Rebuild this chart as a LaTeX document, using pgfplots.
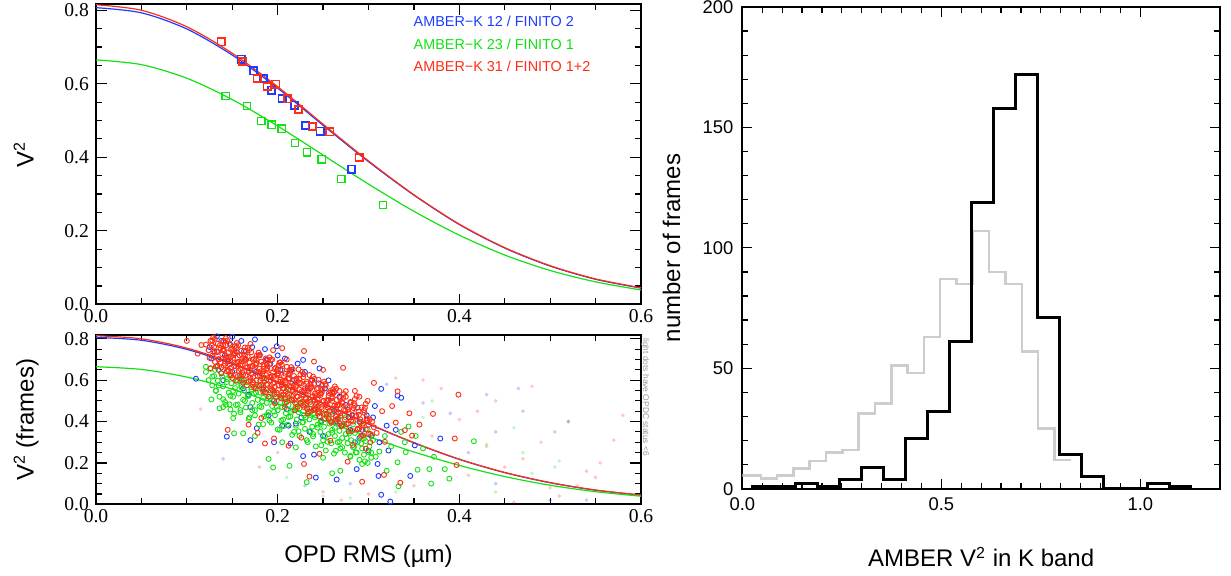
\documentclass[border=0pt]{standalone}
\usepackage{fontspec}
\setmainfont{Liberation Sans}
\newfontfamily\tnr{Liberation Serif}
\usepackage{pgfplots}
\pgfplotsset{compat=1.18}

\definecolor{cblue}{RGB}{30,60,255}
\definecolor{cgreen}{RGB}{20,225,20}
\definecolor{cred}{RGB}{255,45,20}
\definecolor{hgray}{RGB}{205,205,205}

\pgfplotsset{
  leftpanel/.style={
    scale only axis, width=272.5pt,
    xmin=0, xmax=0.6, ymin=0, ymax=0.817,
    xtick={0,0.2,0.4,0.6}, ytick={0,0.2,0.4,0.6,0.8},
    minor x tick num=3, minor y tick num=3,
    tick align=inside, major tick length=5.3pt, minor tick length=2.9pt,
    axis line style={line width=0.9pt},
    every tick/.style={black, line width=0.6pt},
    /pgf/number format/assume math mode=true,
    /pgf/number format/fixed, /pgf/number format/fixed zerofill,
    /pgf/number format/precision=1,
    ticklabel style={font=\fontsize{9.8}{10}\tnr},
    xticklabel style={yshift=1pt},
  },
  curve/.style={line width=0.6pt, smooth, mark=none},
  sq/.style={only marks, mark=square, mark size=1.8pt, mark options={line width=0.9pt}},
  circ/.style={only marks, mark=o, mark size=1.25pt, mark options={line width=0.45pt}},
  faint/.style={only marks, mark=*, mark size=0.75pt, opacity=0.18},
}

\begin{document}
\begin{tikzpicture}
\path[use as bounding box] (0,0) rectangle (615.5pt,288pt);

% ---------- top left: V^2 vs OPD RMS (averages) ----------
\begin{axis}[leftpanel, height=150.15pt, at={(48pt,135.85pt)}, anchor=south west]
\addplot[cblue, curve] coordinates {(0,0.807)(0.05,0.793)(0.10,0.749)(0.15,0.678)(0.20,0.588)(0.25,0.487)(0.30,0.388)(0.35,0.297)(0.40,0.217)(0.45,0.153)(0.50,0.104)(0.55,0.068)(0.60,0.044)};
\addplot[cred, curve] coordinates {(0,0.815)(0.05,0.800)(0.10,0.755)(0.15,0.683)(0.20,0.592)(0.25,0.490)(0.30,0.390)(0.35,0.298)(0.40,0.218)(0.45,0.154)(0.50,0.105)(0.55,0.069)(0.60,0.045)};
\addplot[cgreen, curve] coordinates {(0,0.665)(0.05,0.652)(0.10,0.615)(0.15,0.557)(0.20,0.485)(0.25,0.406)(0.30,0.327)(0.35,0.253)(0.40,0.188)(0.45,0.134)(0.50,0.092)(0.55,0.061)(0.60,0.039)};
\addplot[cblue, sq] coordinates {(0.1598,0.667)(0.1733,0.635)(0.1843,0.614)(0.193,0.583)(0.2048,0.560)(0.2183,0.542)(0.2304,0.487)(0.2468,0.471)(0.2815,0.368)};
\addplot[cgreen, sq, mark options={line width=0.6pt}] coordinates {(0.1426,0.567)(0.166,0.540)(0.1821,0.498)(0.1934,0.489)(0.2044,0.478)(0.219,0.438)(0.2322,0.413)(0.2483,0.394)(0.2702,0.341)(0.316,0.270)};
\addplot[cred, sq] coordinates {(0.1378,0.714)(0.1616,0.661)(0.1773,0.614)(0.1883,0.592)(0.198,0.599)(0.2106,0.559)(0.2230,0.530)(0.238,0.483)(0.2574,0.469)(0.2896,0.400)};
\node[cblue, anchor=base west, font=\fontsize{7.2}{8}\selectfont] at (axis cs:0.342,0.7546) {AMBER−K 12 / FINITO 2};
\node[cgreen, anchor=base west, font=\fontsize{7.2}{8}\selectfont] at (axis cs:0.342,0.694) {AMBER−K 23 / FINITO 1};
\node[cred, anchor=base west, font=\fontsize{7.2}{8}\selectfont] at (axis cs:0.342,0.634) {AMBER−K 31 / FINITO 1+2};
\end{axis}

% ---------- bottom left: individual frames ----------
\begin{axis}[leftpanel, height=84.5pt, at={(48pt,35.85pt)}, anchor=south west]
\addplot[cred, faint] coordinates {(0.115,0.460)(0.430,0.280)(0.470,0.220)(0.520,0.400)(0.550,0.130)(0.580,0.430)(0.480,0.570)(0.460,0.010)(0.500,0.080)(0.530,0.090)(0.540,0.160)(0.555,0.200)(0.400,0.410)(0.360,0.600)(0.380,0.560)(0.440,0.500)(0.420,0.450)(0.370,0.330)(0.350,0.090)(0.300,0.050)(0.270,0.020)(0.250,0.060)(0.200,0.250)(0.180,0.180)(0.330,0.610)(0.450,0.180)(0.490,0.300)(0.570,0.310)(0.510,0.040)(0.410,0.140)};
\addplot[cblue, faint] coordinates {(0.440,0.350)(0.465,0.560)(0.520,0.400)(0.505,0.350)(0.500,0.020)(0.440,0.100)(0.390,0.440)(0.430,0.530)(0.140,0.220)(0.230,0.090)(0.320,0.580)(0.360,0.490)(0.470,0.450)(0.540,0.020)(0.410,0.250)(0.280,0.100)};
\addplot[cgreen, faint] coordinates {(0.460,0.370)(0.470,0.250)(0.510,0.210)(0.505,0.180)(0.430,0.290)(0.370,0.500)(0.400,0.220)(0.330,0.060)(0.280,0.030)(0.210,0.130)(0.250,0.040)(0.360,0.420)(0.480,0.150)(0.440,0.060)};
\addplot[cblue, curve] coordinates {(0,0.807)(0.05,0.793)(0.10,0.749)(0.15,0.678)(0.20,0.588)(0.25,0.487)(0.30,0.388)(0.35,0.297)(0.40,0.217)(0.45,0.153)(0.50,0.104)(0.55,0.068)(0.60,0.044)};
\addplot[cred, curve] coordinates {(0,0.815)(0.05,0.800)(0.10,0.755)(0.15,0.683)(0.20,0.592)(0.25,0.490)(0.30,0.390)(0.35,0.298)(0.40,0.218)(0.45,0.154)(0.50,0.105)(0.55,0.069)(0.60,0.045)};
\addplot[cgreen, curve] coordinates {(0,0.665)(0.05,0.652)(0.10,0.615)(0.15,0.557)(0.20,0.485)(0.25,0.406)(0.30,0.327)(0.35,0.253)(0.40,0.188)(0.45,0.134)(0.50,0.092)(0.55,0.061)(0.60,0.039)};
% blue frames
\addplot[cblue, circ] coordinates {(0.110,0.607)(0.133,0.812)(0.150,0.810)(0.144,0.327)(0.170,0.310)(0.175,0.797)(0.199,0.764)(0.214,0.294)(0.228,0.233)(0.242,0.129)(0.265,0.120)(0.287,0.170)(0.310,0.195)(0.314,0.046)(0.324,0.013)(0.311,0.137)(0.346,0.137)(0.351,0.285)(0.379,0.318)(0.314,0.558)(0.332,0.525)(0.336,0.515)(0.307,0.475)(0.288,0.467)(0.256,0.599)(0.246,0.657)(0.228,0.698)(0.177,0.368)
(0.125,0.760)(0.130,0.740)(0.138,0.790)(0.142,0.720)(0.148,0.770)(0.155,0.735)(0.160,0.790)(0.165,0.700)(0.172,0.760)(0.180,0.720)(0.186,0.750)(0.192,0.680)(0.200,0.720)(0.208,0.705)(0.215,0.650)(0.222,0.680)(0.230,0.640)(0.238,0.600)(0.245,0.585)(0.252,0.560)(0.260,0.540)(0.268,0.520)(0.275,0.480)(0.282,0.430)(0.290,0.400)(0.298,0.430)(0.305,0.420)(0.190,0.430)(0.205,0.380)(0.220,0.390)(0.235,0.350)(0.250,0.330)(0.265,0.400)(0.280,0.360)(0.162,0.560)(0.140,0.600)(0.150,0.640)(0.170,0.470)(0.290,0.320)(0.300,0.260)(0.320,0.380)
(0.127,0.705)(0.135,0.650)(0.146,0.690)(0.158,0.610)(0.163,0.740)(0.168,0.530)(0.176,0.640)(0.183,0.560)(0.188,0.700)(0.196,0.500)(0.203,0.650)(0.210,0.460)(0.218,0.600)(0.226,0.420)(0.233,0.560)(0.241,0.460)(0.248,0.400)(0.255,0.500)(0.262,0.450)(0.270,0.380)(0.278,0.420)(0.285,0.300)(0.293,0.360)(0.303,0.330)(0.312,0.300)(0.322,0.260)(0.330,0.360)(0.212,0.380)(0.196,0.300)(0.240,0.240)};
% green frames
\addplot[cgreen, circ] coordinates {(0.121,0.640)(0.124,0.600)(0.126,0.655)(0.128,0.575)(0.130,0.620)(0.132,0.548)(0.134,0.598)(0.136,0.520)(0.138,0.632)(0.140,0.570)(0.142,0.495)(0.144,0.605)(0.146,0.540)(0.148,0.458)(0.149,0.585)
(0.151,0.520)(0.153,0.562)(0.154,0.480)(0.156,0.600)(0.157,0.535)(0.159,0.445)(0.160,0.575)(0.162,0.505)(0.163,0.550)(0.165,0.468)(0.166,0.590)(0.168,0.525)(0.169,0.420)(0.171,0.555)(0.172,0.490)(0.174,0.535)(0.175,0.455)(0.177,0.570)(0.178,0.505)(0.179,0.385)
(0.181,0.540)(0.182,0.470)(0.184,0.515)(0.185,0.425)(0.187,0.555)(0.188,0.490)(0.190,0.445)(0.191,0.520)(0.193,0.395)(0.194,0.475)(0.196,0.540)(0.197,0.430)(0.199,0.500)(0.200,0.455)(0.202,0.360)(0.203,0.520)(0.205,0.470)(0.206,0.410)(0.208,0.495)(0.209,0.440)
(0.211,0.385)(0.212,0.480)(0.214,0.425)(0.215,0.510)(0.217,0.455)(0.218,0.350)(0.220,0.470)(0.221,0.410)(0.223,0.445)(0.224,0.330)(0.226,0.490)(0.227,0.395)(0.229,0.430)(0.230,0.365)(0.232,0.465)(0.233,0.300)(0.235,0.410)(0.236,0.445)(0.238,0.375)(0.239,0.340)
(0.241,0.420)(0.242,0.280)(0.244,0.385)(0.245,0.450)(0.247,0.350)(0.248,0.405)(0.250,0.310)(0.251,0.375)(0.253,0.260)(0.254,0.425)(0.256,0.340)(0.257,0.390)(0.259,0.295)(0.260,0.360)(0.262,0.245)(0.263,0.330)(0.265,0.405)(0.266,0.300)(0.268,0.355)(0.269,0.270)
(0.271,0.320)(0.272,0.380)(0.274,0.250)(0.275,0.340)(0.277,0.295)(0.278,0.360)(0.280,0.230)(0.281,0.310)(0.283,0.275)(0.285,0.345)(0.286,0.250)(0.288,0.300)(0.290,0.215)(0.291,0.325)(0.293,0.270)(0.295,0.240)(0.297,0.305)(0.299,0.200)(0.301,0.280)(0.303,0.250)(0.305,0.310)(0.308,0.230)
(0.121,0.665)(0.133,0.665)(0.147,0.483)(0.152,0.343)(0.162,0.343)(0.151,0.417)(0.190,0.219)(0.195,0.178)(0.213,0.186)(0.232,0.107)(0.260,0.150)(0.269,0.162)(0.293,0.195)(0.320,0.162)(0.333,0.087)(0.369,0.100)(0.389,0.124)(0.384,0.170)(0.367,0.170)(0.354,0.167)(0.341,0.252)(0.332,0.203)(0.416,0.305)(0.344,0.376)(0.336,0.350)(0.352,0.330)(0.318,0.330)(0.325,0.280)(0.312,0.255)(0.250,0.225)(0.220,0.275)(0.205,0.300)(0.175,0.330)(0.140,0.470)(0.160,0.620)(0.185,0.600)(0.210,0.560)(0.235,0.505)(0.340,0.300)(0.360,0.270)(0.372,0.230)
(0.127,0.507)(0.128,0.617)(0.131,0.650)(0.132,0.550)(0.135,0.574)(0.136,0.464)(0.139,0.618)(0.140,0.508)(0.143,0.481)(0.144,0.591)(0.147,0.625)(0.148,0.525)(0.151,0.548)(0.152,0.438)(0.155,0.592)(0.156,0.482)(0.159,0.456)(0.160,0.566)(0.163,0.599)(0.164,0.499)
(0.167,0.523)(0.168,0.413)(0.171,0.566)(0.172,0.456)(0.175,0.430)(0.176,0.540)(0.179,0.574)(0.180,0.474)(0.183,0.497)(0.184,0.387)(0.187,0.541)(0.188,0.431)(0.191,0.404)(0.192,0.514)(0.195,0.548)(0.196,0.448)(0.199,0.472)(0.200,0.362)(0.203,0.515)(0.204,0.405)
(0.207,0.379)(0.208,0.489)(0.211,0.522)(0.212,0.422)(0.215,0.446)(0.216,0.336)(0.219,0.490)(0.220,0.380)(0.223,0.353)(0.224,0.463)(0.227,0.497)(0.228,0.397)(0.231,0.420)(0.232,0.310)(0.235,0.464)(0.236,0.354)(0.239,0.328)(0.240,0.438)(0.243,0.471)(0.244,0.371)
(0.247,0.395)(0.248,0.285)(0.251,0.438)(0.252,0.328)(0.255,0.302)(0.256,0.412)(0.259,0.446)(0.260,0.346)(0.263,0.369)(0.264,0.259)(0.267,0.413)(0.268,0.303)(0.271,0.276)(0.272,0.386)(0.275,0.420)(0.276,0.320)(0.279,0.344)(0.280,0.234)(0.283,0.387)(0.284,0.277)
(0.287,0.251)(0.288,0.361)(0.291,0.394)(0.292,0.294)(0.295,0.318)(0.296,0.208)(0.299,0.362)(0.300,0.252)(0.303,0.225)(0.304,0.335)};
% red frames
\addplot[cred, circ] coordinates {(0.121,0.772)(0.124,0.745)(0.126,0.790)(0.128,0.718)(0.130,0.760)(0.131,0.688)(0.133,0.738)(0.134,0.776)(0.135,0.702)(0.137,0.755)(0.138,0.662)(0.139,0.725)(0.140,0.790)
(0.141,0.742)(0.142,0.680)(0.143,0.768)(0.144,0.712)(0.145,0.650)(0.146,0.735)(0.147,0.778)(0.148,0.693)(0.149,0.622)(0.150,0.752)(0.151,0.708)(0.152,0.668)(0.153,0.731)(0.154,0.598)(0.155,0.760)(0.156,0.688)(0.157,0.645)(0.158,0.720)(0.159,0.672)(0.160,0.742)
(0.161,0.705)(0.162,0.628)(0.163,0.690)(0.164,0.758)(0.165,0.662)(0.166,0.575)(0.167,0.715)(0.168,0.640)(0.169,0.685)(0.170,0.612)(0.171,0.735)(0.172,0.668)(0.173,0.590)(0.174,0.702)(0.175,0.648)(0.176,0.560)(0.177,0.682)(0.178,0.620)(0.179,0.720)(0.180,0.655)
(0.181,0.598)(0.182,0.690)(0.183,0.632)(0.184,0.545)(0.185,0.668)(0.186,0.610)(0.187,0.705)(0.188,0.582)(0.189,0.645)(0.190,0.520)(0.191,0.675)(0.192,0.615)(0.193,0.560)(0.194,0.700)(0.195,0.638)(0.196,0.590)(0.197,0.488)(0.198,0.660)(0.199,0.540)(0.200,0.622)
(0.201,0.575)(0.202,0.685)(0.203,0.602)(0.204,0.512)(0.205,0.648)(0.206,0.560)(0.207,0.620)(0.208,0.470)(0.209,0.590)(0.210,0.665)(0.211,0.535)(0.212,0.608)(0.213,0.572)(0.214,0.640)(0.215,0.505)(0.216,0.585)(0.217,0.545)(0.218,0.620)(0.219,0.455)(0.220,0.568)
(0.221,0.600)(0.222,0.520)(0.223,0.652)(0.224,0.555)(0.225,0.490)(0.226,0.585)(0.227,0.532)(0.228,0.615)(0.229,0.470)(0.230,0.560)(0.231,0.508)(0.232,0.592)(0.233,0.438)(0.234,0.545)(0.235,0.625)(0.236,0.495)(0.237,0.570)(0.238,0.520)(0.239,0.455)(0.240,0.582)
(0.241,0.535)(0.242,0.480)(0.243,0.558)(0.244,0.505)(0.245,0.602)(0.246,0.445)(0.247,0.528)(0.248,0.470)(0.249,0.552)(0.250,0.500)(0.252,0.415)(0.253,0.575)(0.254,0.480)(0.256,0.525)(0.257,0.450)(0.258,0.548)(0.259,0.395)(0.260,0.500)
(0.261,0.462)(0.262,0.540)(0.264,0.425)(0.265,0.505)(0.266,0.478)(0.268,0.548)(0.269,0.440)(0.270,0.380)(0.271,0.495)(0.273,0.458)(0.274,0.410)(0.275,0.520)(0.277,0.470)(0.278,0.352)(0.279,0.438)(0.280,0.495)
(0.282,0.455)(0.283,0.400)(0.285,0.478)(0.286,0.425)(0.288,0.365)(0.289,0.448)(0.291,0.410)(0.292,0.330)(0.294,0.390)(0.295,0.455)(0.297,0.362)(0.298,0.415)(0.300,0.385)(0.302,0.340)(0.304,0.400)(0.306,0.372)(0.309,0.345)
(0.100,0.790)(0.112,0.728)(0.116,0.770)(0.229,0.741)(0.272,0.660)(0.306,0.587)(0.399,0.530)(0.371,0.437)(0.326,0.475)(0.332,0.546)(0.395,0.318)(0.397,0.190)(0.335,0.104)(0.317,0.142)(0.293,0.109)(0.235,0.134)(0.229,0.195)(0.246,0.244)(0.186,0.294)(0.196,0.318)(0.168,0.385)(0.182,0.417)(0.277,0.206)(0.297,0.269)(0.302,0.300)(0.348,0.332)(0.340,0.358)(0.262,0.545)(0.285,0.548)(0.250,0.650)(0.210,0.700)(0.195,0.745)(0.170,0.775)(0.145,0.360)(0.178,0.345)(0.212,0.283)(0.226,0.322)(0.258,0.308)(0.283,0.287)(0.318,0.302)(0.330,0.395)(0.356,0.385)(0.345,0.440)(0.315,0.450)(0.290,0.520)(0.240,0.690)(0.205,0.755)
(0.126,0.658)(0.1275,0.768)(0.125,0.708)(0.129,0.806)(0.1305,0.732)(0.128,0.792)(0.132,0.666)(0.1335,0.736)(0.131,0.800)(0.135,0.700)(0.1365,0.770)(0.134,0.670)(0.138,0.634)(0.1395,0.744)(0.137,0.684)(0.141,0.789)(0.1425,0.709)(0.140,0.769)(0.144,0.643)(0.1455,0.713)(0.143,0.803)
(0.147,0.677)(0.1485,0.747)(0.146,0.647)(0.150,0.611)(0.1515,0.721)(0.149,0.661)(0.153,0.765)(0.1545,0.685)(0.152,0.745)(0.156,0.620)(0.1575,0.690)(0.155,0.780)(0.159,0.654)(0.1605,0.724)(0.158,0.624)(0.162,0.588)(0.1635,0.698)(0.161,0.638)(0.165,0.742)(0.1665,0.662)(0.164,0.722)
(0.168,0.596)(0.1695,0.666)(0.167,0.756)(0.171,0.630)(0.1725,0.700)(0.170,0.600)(0.174,0.565)(0.1755,0.675)(0.173,0.615)(0.177,0.719)(0.1785,0.639)(0.176,0.699)(0.180,0.573)(0.1815,0.643)(0.179,0.733)(0.183,0.607)(0.1845,0.677)(0.182,0.577)(0.186,0.541)(0.1875,0.651)(0.185,0.591)
(0.189,0.696)(0.1905,0.616)(0.188,0.676)(0.192,0.550)(0.1935,0.620)(0.191,0.710)(0.195,0.584)(0.1965,0.654)(0.194,0.554)(0.198,0.518)(0.1995,0.628)(0.197,0.568)(0.201,0.672)(0.2025,0.592)(0.200,0.652)(0.204,0.526)(0.2055,0.596)(0.203,0.686)(0.207,0.561)(0.2085,0.631)(0.206,0.531)
(0.210,0.495)(0.2115,0.605)(0.209,0.545)(0.213,0.649)(0.2145,0.569)(0.212,0.629)(0.216,0.503)(0.2175,0.573)(0.215,0.663)(0.219,0.537)(0.2205,0.607)(0.218,0.507)(0.222,0.472)(0.2235,0.582)(0.221,0.522)(0.225,0.626)(0.2265,0.546)(0.224,0.606)(0.228,0.480)(0.2295,0.550)(0.227,0.640)
(0.231,0.514)(0.2325,0.584)(0.230,0.484)(0.234,0.448)(0.2355,0.558)(0.233,0.498)(0.237,0.602)(0.2385,0.522)(0.236,0.582)(0.240,0.457)(0.2415,0.527)(0.239,0.617)(0.243,0.491)(0.2445,0.561)(0.242,0.461)(0.246,0.425)(0.2475,0.535)(0.245,0.475)(0.249,0.579)(0.2505,0.499)(0.248,0.559)
(0.252,0.433)(0.2535,0.503)(0.251,0.593)(0.255,0.468)(0.2565,0.538)(0.254,0.438)(0.258,0.402)(0.2595,0.512)(0.257,0.452)(0.261,0.556)(0.2625,0.476)(0.260,0.536)(0.264,0.410)(0.2655,0.480)(0.263,0.570)(0.267,0.444)(0.2685,0.514)(0.266,0.414)(0.270,0.378)(0.2715,0.488)(0.269,0.428)
(0.273,0.533)(0.2745,0.453)(0.272,0.513)(0.276,0.387)(0.2775,0.457)(0.275,0.547)(0.279,0.421)(0.2805,0.491)(0.278,0.391)(0.282,0.355)(0.2835,0.465)(0.281,0.405)(0.285,0.509)(0.2865,0.429)(0.284,0.489)(0.288,0.363)(0.2895,0.433)(0.287,0.523)(0.291,0.398)(0.2925,0.468)(0.290,0.368)
(0.294,0.332)(0.2955,0.442)(0.293,0.382)(0.297,0.486)(0.2985,0.406)(0.296,0.466)(0.300,0.340)(0.3015,0.410)(0.299,0.500)
(0.1405,0.670)(0.1405,0.750)(0.1445,0.792)(0.1445,0.692)(0.1485,0.714)(0.1485,0.624)(0.1525,0.646)(0.1525,0.726)(0.1565,0.769)(0.1565,0.669)(0.1605,0.691)(0.1605,0.601)(0.1645,0.623)(0.1645,0.703)(0.1685,0.745)(0.1685,0.645)(0.1725,0.668)(0.1725,0.578)(0.1765,0.600)(0.1765,0.680)
(0.1805,0.722)(0.1805,0.622)(0.1845,0.644)(0.1845,0.554)(0.1885,0.577)(0.1885,0.657)(0.1925,0.699)(0.1925,0.599)(0.1965,0.621)(0.1965,0.531)(0.2005,0.553)(0.2005,0.633)(0.2045,0.676)(0.2045,0.576)(0.2085,0.598)(0.2085,0.508)(0.2125,0.530)(0.2125,0.610)(0.2165,0.652)(0.2165,0.552)
(0.2205,0.574)(0.2205,0.484)(0.2245,0.507)(0.2245,0.587)(0.2285,0.629)(0.2285,0.529)(0.2325,0.551)(0.2325,0.461)(0.2365,0.483)(0.2365,0.563)(0.2405,0.606)(0.2405,0.506)(0.2445,0.528)(0.2445,0.438)(0.2485,0.460)(0.2485,0.540)(0.2525,0.582)(0.2525,0.482)(0.2565,0.505)(0.2565,0.415)
(0.2605,0.437)(0.2605,0.517)(0.2645,0.559)(0.2645,0.459)(0.2685,0.481)(0.2685,0.391)};
\end{axis}
\node[rotate=-90, anchor=west, text=gray!80, font=\fontsize{4.2}{5}\selectfont, inner sep=0pt] at (322.6pt,119pt) {light dots have OPDC status <6};

% ---------- right: histogram ----------
\begin{axis}[scale only axis, width=238.85pt, height=240.85pt, at={(371.15pt,43.65pt)}, anchor=south west,
  xmin=0, xmax=1.2, ymin=0, ymax=200,
  xtick={0,0.5,1.0}, ytick={0,50,100,150,200},
  minor x tick num=9, minor y tick num=4,
  tick align=inside, major tick length=4.8pt, minor tick length=3pt,
  axis line style={line width=0.85pt},
  every tick/.style={black, line width=0.6pt},
  /pgf/number format/assume math mode=true,
  ticklabel style={font=\fontsize{9.2}{10}\selectfont},
  xticklabel style={/pgf/number format/fixed, /pgf/number format/fixed zerofill, /pgf/number format/precision=1, yshift=-1pt},
  yticklabel style={/pgf/number format/fixed, /pgf/number format/precision=0, xshift=-1pt},
]
\addplot[hgray, line width=1.25pt, const plot] coordinates {(0.0,5.5)(0.0465,4.2)(0.0875,5.5)(0.1285,8.4)(0.1694,11.5)(0.2104,15.1)(0.2514,16.1)(0.2923,31.3)(0.3333,35.3)(0.3743,51.2)(0.4153,48)(0.4563,63)(0.4972,87)(0.5382,85)(0.5792,107)(0.6202,90)(0.6611,85)(0.7021,57)(0.7431,25)(0.7841,12)(0.825,12)};
\addplot[black, line width=1.5pt, const plot] coordinates {(0.023,1)(0.078,1)(0.133,2)(0.189,1)(0.244,4)(0.299,9)(0.355,4)(0.410,21)(0.465,32)(0.521,61)(0.576,119)(0.631,158)(0.687,172)(0.742,71)(0.797,14)(0.853,5)(0.908,0)(0.963,0)(1.018,2)(1.074,1)(1.129,1)};
\end{axis}

% ---------- axis labels ----------
\node[rotate=90, anchor=base, font=\fontsize{12}{14}\selectfont] at (16.75pt,210.9pt) {V\textsuperscript{2}};
\node[rotate=90, anchor=base, font=\fontsize{12}{14}\selectfont] at (16.75pt,78.1pt) {V\textsuperscript{2} (frames)};
\node[anchor=base, font=\fontsize{12}{14}\selectfont] at (184.25pt,6.5pt) {OPD RMS (µm)};
\node[rotate=90, anchor=base, font=\fontsize{12}{14}\selectfont] at (340pt,164pt) {number of frames};
\node[anchor=base, font=\fontsize{12}{14}\selectfont] at (490.6pt,4.5pt) {AMBER V\textsuperscript{2} in K band};
\end{tikzpicture}
\end{document}
